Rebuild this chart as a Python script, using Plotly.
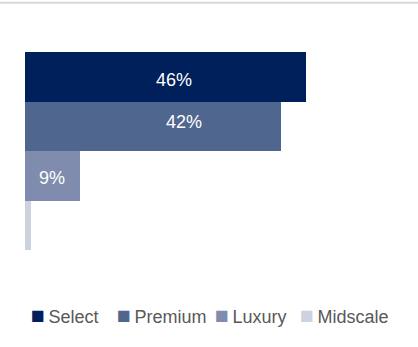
import plotly.graph_objects as go

categories = ["Select", "Premium", "Luxury", "Midscale"]
values = [46, 42, 9, 1]
labels = ["46%", "42%", "9%", ""]
colors = ["#00205B", "#4F668F", "#7F8CAD", "#CCD2E0"]

# label nudges (px) to mimic the original label placement
label_dx = [9, 31, 0, 0]
label_dy = [-3, 4, -2, 0]
# left edge (px) of each legend entry
legend_left_px = [29, 115, 213, 298]

FONT = "Liberation Sans, Arial, sans-serif"
L, R, T, B, W, H = 25, 88, 52, 97, 418, 347
PW, PH = W - L - R, H - T - B

fig = go.Figure()
for cat, val, col in zip(categories, values, colors):
    fig.add_trace(go.Bar(
        x=[val], y=[cat], orientation="h", name=cat,
        marker=dict(color=col, line=dict(width=0)),
        hoverinfo="skip", showlegend=False,
    ))

annotations = []
for cat, val, lab, dx, dy in zip(categories, values, labels, label_dx, label_dy):
    if lab:
        annotations.append(dict(
            x=val / 2, y=cat, xref="x", yref="y", text=lab, showarrow=False,
            xshift=dx, yshift=dy,
            font=dict(size=18, color="white", family=FONT)))

# legend: coloured square + real text per entry
for cat, col, px in zip(categories, colors, legend_left_px):
    annotations.append(dict(
        text=f"<span style='color:{col};font-size:23px'>\u25a0</span>\u2009{cat}",
        xref="paper", yref="paper",
        x=(px - L) / PW, y=(H - B - 314.5) / PH,
        xanchor="left", yanchor="middle", showarrow=False,
        font=dict(size=18, color="#595959", family=FONT)))

fig.update_layout(
    width=W, height=H,
    margin=dict(l=L, r=R, t=T, b=B),
    paper_bgcolor="white", plot_bgcolor="white",
    barmode="overlay", bargap=0,
    showlegend=False,
    xaxis=dict(range=[0, 50], visible=False, fixedrange=True),
    yaxis=dict(categoryorder="array", categoryarray=categories, autorange="reversed",
               visible=False, fixedrange=True),
    annotations=annotations,
)
fig.add_shape(type="line", xref="paper", yref="paper",
              x0=-0.1, x1=1.3, y0=1.249, y1=1.249,
              line=dict(color="#D9D9D9", width=2))

fig.write_html("out.html")
